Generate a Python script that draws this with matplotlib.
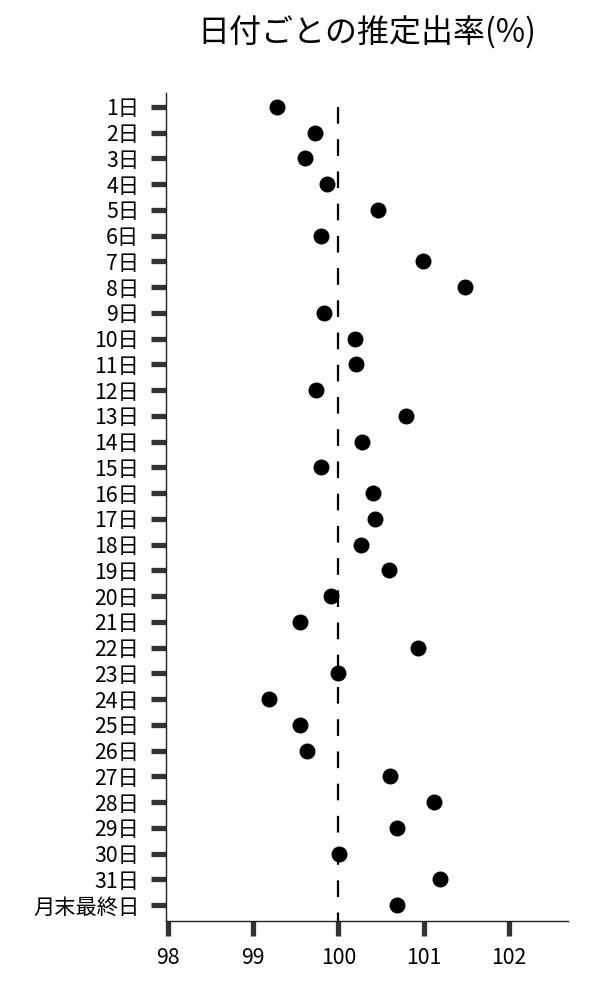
import matplotlib
matplotlib.use("Agg")
import matplotlib.pyplot as plt

plt.rcParams['font.family'] = ['Noto Sans CJK JP', 'DejaVu Sans']

# labels top to bottom
days = [f"{i}日" for i in range(1, 32)] + ["月末最終日"]
# estimated rate (%)
rates = [99.28, 99.72, 99.61, 99.87, 100.46, 99.79, 100.99, 101.49, 99.83, 100.20,
         100.21, 99.74, 100.80, 100.28, 99.79, 100.41, 100.43, 100.26, 100.59, 99.91,
         99.55, 100.93, 100.00, 99.19, 99.55, 99.63, 100.61, 101.12, 100.69, 100.01,
         101.19, 100.69]
x_ticks = [98, 99, 100, 101, 102]
ref_value = 100

fig = plt.figure(figsize=(6, 10), dpi=100)
ax = fig.add_axes([0.276, 0.079, 0.671, 0.828])

ypos = list(range(len(days)))
ax.scatter(rates, ypos, s=110, color="black", zorder=3)
ax.plot([ref_value, ref_value], [0, len(days) - 0.38], color="black",
        lw=1.6, linestyle=(0, (7.5, 7)), zorder=2)

ax.set_xlim(97.97, 102.7)
ax.set_ylim(len(days) - 0.38, -0.54)
ax.set_yticks(ypos)
ax.set_yticklabels(days, fontsize=15.3)
ax.set_xticks(x_ticks)
ax.set_xticklabels([str(v) for v in x_ticks], fontsize=15.3)

ax.tick_params(axis="both", length=11, width=3.8, color="#333333")
ax.tick_params(axis="y", pad=8)
ax.tick_params(axis="x", pad=8)
for s in ["top", "right"]:
    ax.spines[s].set_visible(False)
for s in ["left", "bottom"]:
    ax.spines[s].set_linewidth(1.0)
    ax.spines[s].set_color("#222222")

ax.set_title("日付ごとの推定出率(%)", fontsize=23, pad=36)

fig.savefig("out.png", dpi=100)
